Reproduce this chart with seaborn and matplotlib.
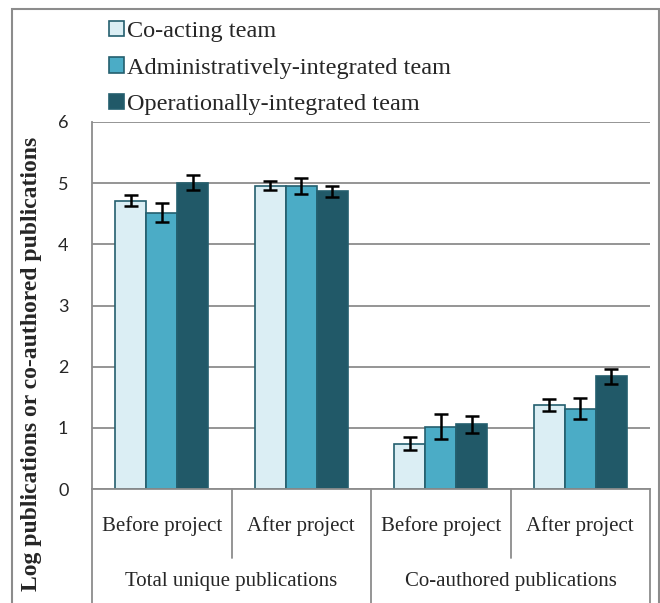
import matplotlib
matplotlib.use("Agg")
import matplotlib.pyplot as plt
import matplotlib.transforms as mtransforms
from matplotlib.patches import Rectangle
import pandas as pd
import seaborn as sns

# ---------- data ----------
periods = ["Before project", "After project", "Before project", "After project"]
measures = ["Total unique publications", "Co-authored publications"]
teams = ["Co-acting team", "Administratively-integrated team", "Operationally-integrated team"]
coacting = [4.71, 4.96, 0.74, 1.37]
admin = [4.52, 4.95, 1.02, 1.31]
operational = [5.01, 4.87, 1.06, 1.84]
coacting_err = [0.09, 0.07, 0.11, 0.10]
admin_err = [0.16, 0.13, 0.20, 0.17]
operational_err = [0.12, 0.09, 0.14, 0.12]
yticks = [0, 1, 2, 3, 4, 5, 6]

colors = ["#DBEEF4", "#4BACC6", "#215968"]
edge = "#245F6E"
gray = "#8C8C8C"

slots = [f"{measures[i // 2]}|{p}" for i, p in enumerate(periods)]
rows = []
for team, vals in zip(teams, [coacting, admin, operational]):
    for s, v in zip(slots, vals):
        rows.append({"slot": s, "team": team, "value": v})
df = pd.DataFrame(rows)

sns.set_style("white")
plt.rcParams["font.family"] = ["Liberation Serif", "DejaVu Serif"]

fig = plt.figure(figsize=(6.6, 6.03), dpi=100)
ax = fig.add_axes([92 / 660, 1 - 489 / 603, (650 - 92) / 660, (489 - 122) / 603])

sns.barplot(data=df, x="slot", y="value", hue="team", order=slots, hue_order=teams,
            palette=colors, saturation=1, width=0.67, gap=0, edgecolor=edge,
            linewidth=1.2, errorbar=None, ax=ax)

# error bars on top of each bar
for cont, errs in zip(ax.containers, [coacting_err, admin_err, operational_err]):
    xs = [p.get_x() + p.get_width() / 2 for p in cont.patches]
    ys = [p.get_height() for p in cont.patches]
    ax.errorbar(xs, ys, yerr=errs, fmt="none", ecolor="black", elinewidth=1.8,
                capsize=5, capthick=1.8, zorder=5)

handles, labels = ax.get_legend_handles_labels()
ax.get_legend().remove()
fig.legend(handles, labels, loc="upper left", bbox_to_anchor=(109 / 660, 1 - 21 / 603),
           frameon=False, fontsize=17.5, handlelength=0.6, handleheight=0.6,
           handletextpad=0.15, labelspacing=0.62, borderaxespad=0, borderpad=0)

ax.set_xlim(-0.5, 3.5)
ax.set_ylim(0, 6)
ax.set_yticks(yticks)
ax.set_yticklabels([str(t) for t in yticks], family="Lato", fontsize=13)
ax.set_xticks([])
ax.set_xlabel("")
ax.set_ylabel("Log publications or co-authored publications", fontsize=17,
              fontweight="bold")
ax.yaxis.set_label_coords(-0.09, 0.34)
ax.tick_params(axis="y", direction="out", length=6, width=1.2, color=gray, pad=11)
ax.yaxis.grid(True, color=gray, linewidth=1.3)
ax.set_axisbelow(True)
for side in ["top", "right"]:
    ax.spines[side].set_visible(False)
for side in ["left", "bottom"]:
    ax.spines[side].set_color(gray)
    ax.spines[side].set_linewidth(1.3)

# multi-level category axis
trans = mtransforms.blended_transform_factory(ax.transData, ax.transAxes)
for i, p in enumerate(periods):
    ax.text(i, -0.1, p, transform=trans, ha="center", va="center", fontsize=15)
for j, m in enumerate(measures):
    ax.text(2 * j + 0.5, -0.252, m, transform=trans, ha="center", va="center", fontsize=15)
for xb in [0.5, 2.5]:
    ax.plot([xb, xb], [0, -0.188], transform=trans, color=gray, lw=1.3, clip_on=False)
for xb in [-0.5, 1.5, 3.5]:
    ax.plot([xb, xb], [0, -0.4], transform=trans, color=gray, lw=1.3, clip_on=False)

# chart border
fig.add_artist(Rectangle((12 / 660, -0.05), 647 / 660, 1.05 - 9 / 603,
                         transform=fig.transFigure, fill=False, edgecolor=gray, lw=1.5))

fig.savefig("out.png", dpi=100)
